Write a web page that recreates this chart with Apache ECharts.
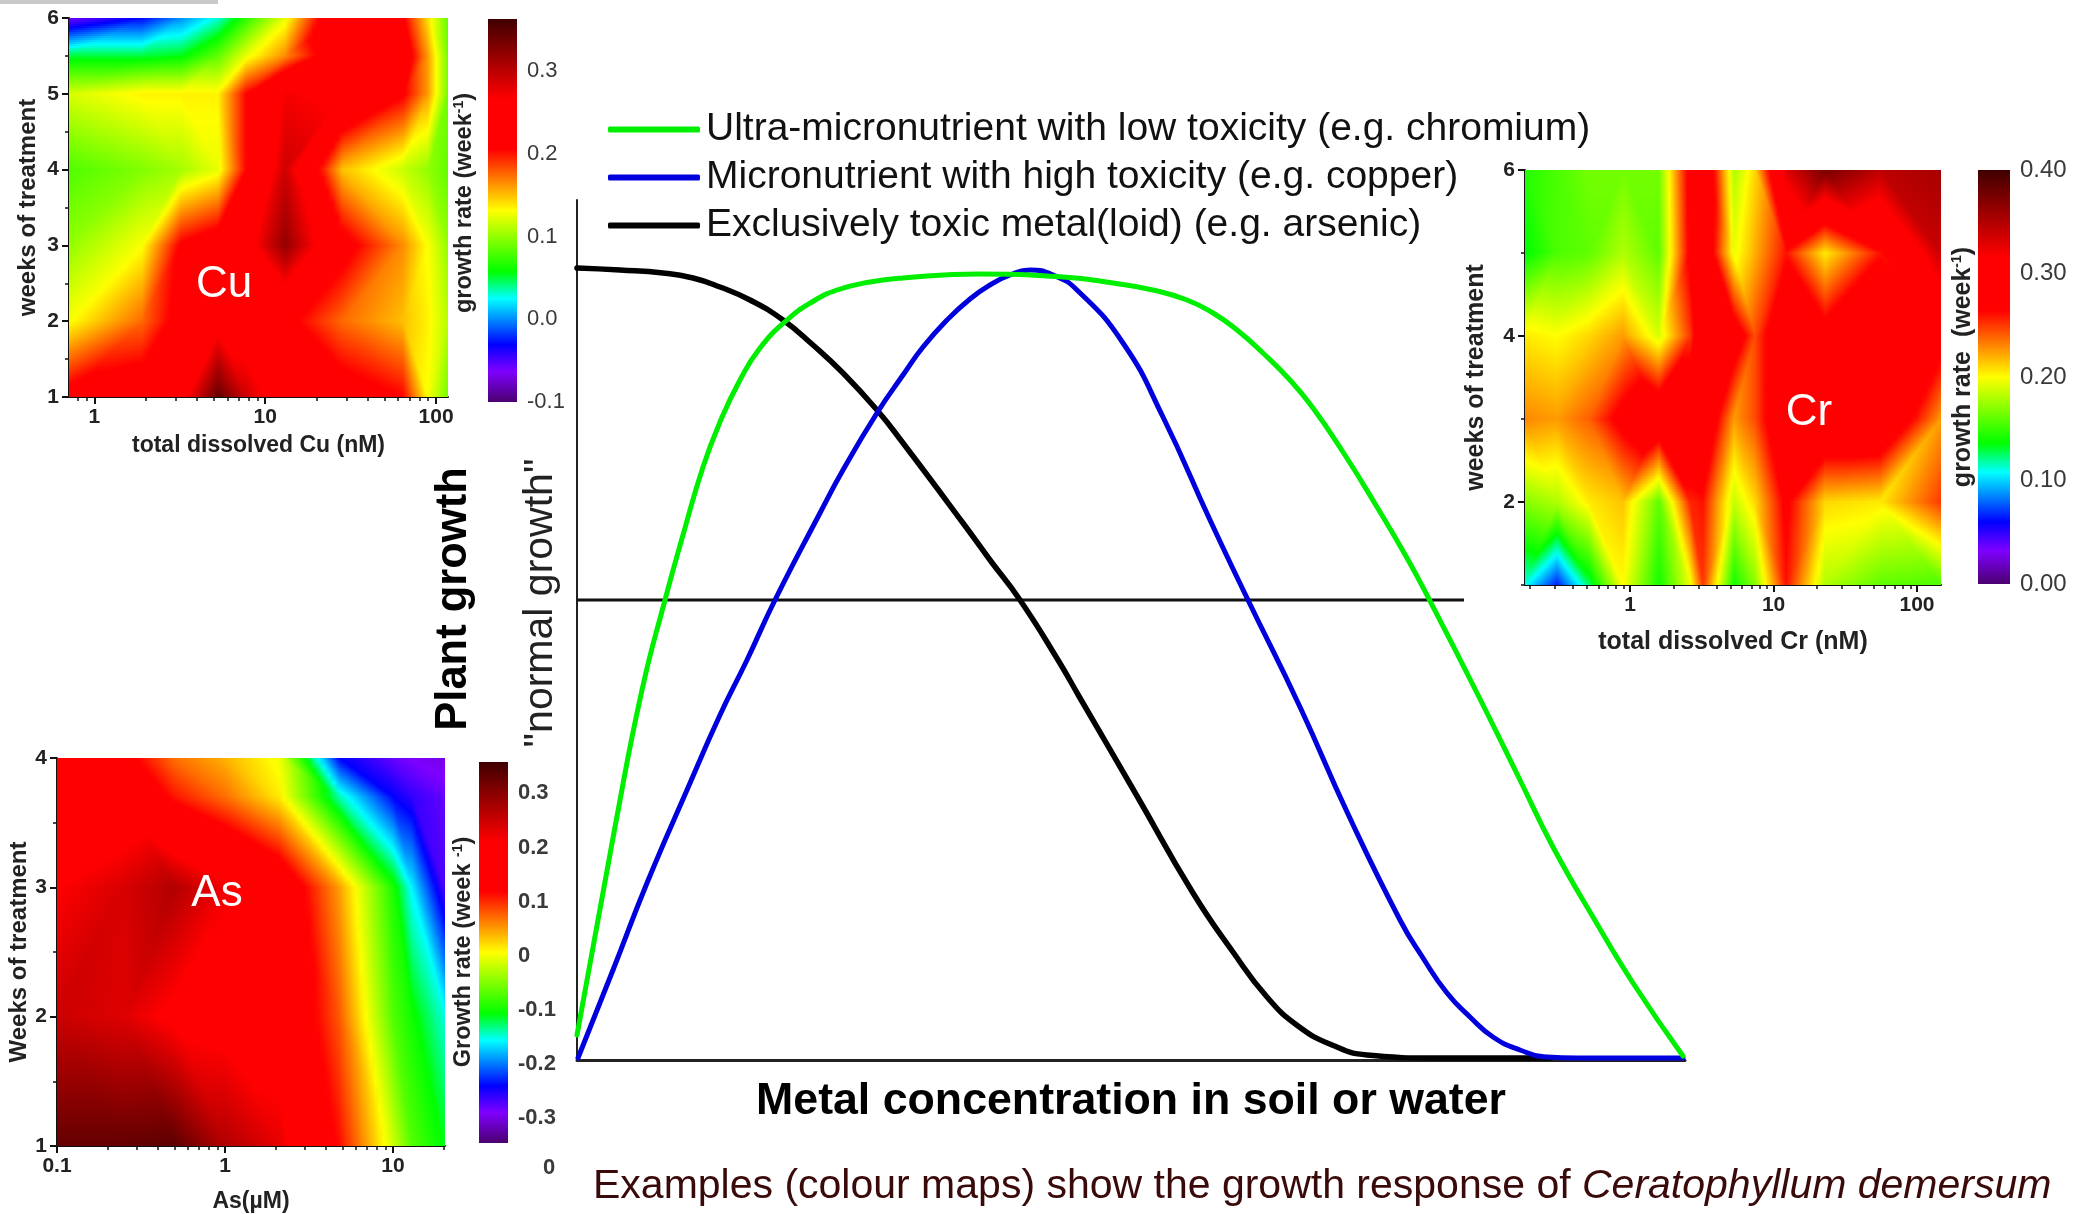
<!DOCTYPE html>
<html><head><meta charset="utf-8">
<style>html,body{margin:0;padding:0;background:#fff}#c{width:2090px;height:1214px}</style>
<script src="https://cdn.jsdelivr.net/npm/echarts@6/dist/echarts.min.js"></script>
</head><body><div id="c"></div>
<script>
// ---------- response curves (relative units) ----------
const lowToxCurve = [[0,25],[38,233],[65,370],[88,460],[106,525],[126,593],[143,638],[163,680],[183,712],[210,740],[235,758],[260,770],[293,778],[326,782],[403,786],[486,783],[536,777],[576,770],[610,760],[636,747],[660,730],[686,707],[713,680],[736,652],[766,608],[800,553],[830,502],[853,459],[900,367],[943,280],[976,213],[1016,143],[1056,77],[1106,4]];
const highToxCurve = [[1,2],[36,90],[70,177],[110,270],[143,345],[170,400],[198,460],[243,547],[266,590],[300,647],[326,685],[346,713],[370,740],[393,761],[413,775],[433,785],[453,790],[476,785],[500,770],[546,717],[586,643],[633,540],[671,460],[723,353],[771,246],[823,140],[846,102],[870,67],[893,43],[916,23],[943,10],[970,3],[1000,2],[1106,2]];
const toxicCurve = [[0,792],[43,790],[86,787],[116,782],[143,773],[173,760],[206,740],[236,715],[266,687],[300,650],[326,617],[386,537],[413,500],[443,460],[481,400],[503,362],[560,264],[616,167],[656,108],[690,63],[721,34],[755,15],[790,5],[860,2],[974,2]];
const normalLine = [[0,460],[887,460]];
const legendNames = ['Ultra-micronutrient with low toxicity (e.g. chromium)','Micronutrient with high toxicity (e.g. copper)','Exclusively toxic metal(loid) (e.g. arsenic)'];

// ---------- Cu map ----------
const cuX = [0.71,1.9,3.2,5.3,7.7,13,28,64,90,117];
const cuY = [1,2,3,4,5,5.5,6];
const cuW1 = [0.22,0.23,0.25,0.345,0.29,0.24,0.225,0.205,0.13,0.09];
const cuW2 = [0.13,0.175,0.22,0.25,0.24,0.215,0.175,0.15,0.135,0.11];
const cuW3 = [0.10,0.13,0.21,0.23,0.25,0.32,0.22,0.165,0.13,0.10];
const cuW4 = [0.08,0.095,0.105,0.125,0.205,0.29,0.15,0.115,0.10,0.085];
const cuW5 = [0.12,0.135,0.135,0.135,0.205,0.27,0.26,0.21,0.16,0.09];
const cuW55 = [0.05,0.05,0.055,0.085,0.125,0.165,0.24,0.235,0.16,0.09];
const cuW6 = [-0.06,-0.03,0.0,0.03,0.07,0.125,0.26,0.21,0.14,0.085];
const cuRange = [-0.1,0.363];
const cuTicks = [-0.1,0,0.1,0.2,0.3];

// ---------- As map ----------
const asX = [0.1,0.25,0.5,1,2.1,4.8,10,13,20.4];
const asY = [1,2,3,3.7,4];
const asW1 = [0.33,0.33,0.335,0.27,0.23,0.115,-0.015,-0.07,-0.11];
const asW2 = [0.25,0.235,0.2,0.19,0.18,0.08,-0.07,-0.1,-0.15];
const asW3 = [0.21,0.24,0.27,0.22,0.17,0.05,-0.095,-0.16,-0.27];
const asW37 = [0.17,0.17,0.11,0.07,0.015,-0.14,-0.24,-0.26,-0.28];
const asW4 = [0.16,0.135,0.07,0.04,0.0,-0.24,-0.28,-0.29,-0.3];
const asRange = [-0.346,0.358];
const asTicks = [-0.3,-0.2,-0.1,0,0.1,0.2,0.3];

// ---------- Cr map ----------
const crX = [0.186,0.31,0.52,0.89,1.6,2.6,3.2,5.3,7.4,12.2,23,55,147];
const crY = [1,2,3,4,5,6];
const crW1 = [0.11,0.065,0.125,0.2,0.14,0.195,0.25,0.14,0.17,0.26,0.18,0.16,0.155];
const crW2 = [0.17,0.18,0.205,0.215,0.16,0.255,0.26,0.185,0.21,0.27,0.21,0.205,0.25];
const crW3 = [0.23,0.225,0.24,0.275,0.3,0.3,0.3,0.225,0.245,0.3,0.31,0.31,0.225];
const crW4 = [0.205,0.2,0.21,0.225,0.19,0.25,0.29,0.285,0.245,0.3,0.28,0.3,0.28];
const crW5 = [0.135,0.155,0.16,0.18,0.16,0.27,0.3,0.195,0.22,0.26,0.205,0.26,0.34];
const crW6 = [0.145,0.155,0.165,0.165,0.165,0.275,0.31,0.18,0.21,0.33,0.375,0.345,0.355];
const crRange = [0,0.40];
const crTicks = [0,0.1,0.2,0.3,0.4];

// ---------- colour ramp shared by the maps ----------
const rampAt = [0,0.08,0.15,0.27,0.34,0.5,0.66,0.79,1];
const rampRgb = [[75,0,112],[127,0,255],[0,0,255],[0,255,255],[0,255,0],[255,255,0],[255,0,0],[255,0,0],[63,0,0]];

function rampColor(n){
  n = Math.max(0,Math.min(1,n));
  let i = 0;
  while(i < rampAt.length-2 && n > rampAt[i+1]) i++;
  const t = (n-rampAt[i])/(rampAt[i+1]-rampAt[i]);
  const a = rampRgb[i], b = rampRgb[i+1];
  return 'rgb('+Math.round(a[0]+(b[0]-a[0])*t)+','+Math.round(a[1]+(b[1]-a[1])*t)+','+Math.round(a[2]+(b[2]-a[2])*t)+')';
}
function cells(xs,ys,rows){
  const out=[];
  for(let j=0;j<ys.length-1;j++)for(let i=0;i<xs.length-1;i++)
    out.push([xs[i],ys[j],xs[i+1],ys[j+1],rows[j][i],rows[j][i+1],rows[j+1][i],rows[j+1][i+1]]);
  return out;
}
// each cell is split along the diagonal joining its two closest values, as a triangulated contour map does
function mapRender(range){
  const col=v=>rampColor((v-range[0])/(range[1]-range[0]));
  return function(params,api){
    const a=api.coord([api.value(0),api.value(1)]), b=api.coord([api.value(2),api.value(3)]);
    const v00=api.value(4),v10=api.value(5),v01=api.value(6),v11=api.value(7);
    const mainDiag=Math.abs(v00-v11)<=Math.abs(v10-v01);
    const x0=Math.round(a[0]),x1=Math.round(b[0]),yT=Math.round(b[1]),yB=Math.round(a[1]);
    const kids=[];
    for(let y=yT;y<yB;y+=2){
      const s=Math.max(0,Math.min(1,(a[1]-(y+1))/(a[1]-b[1])));
      const crease=mainDiag?s:1-s;
      const val=u=>{
        if(mainDiag) return u<s ? v00+s*(v01-v00)+u*(v11-v01) : v00+u*(v10-v00)+s*(v11-v10);
        return u<1-s ? v00+u*(v10-v00)+s*(v01-v00) : v11+(1-u)*(v01-v11)+(1-s)*(v10-v11);
      };
      const us=[];
      for(let k=0;k<=12;k++) us.push(k/12);
      us.push(crease); us.sort((p,q)=>p-q);
      const stops=us.map(u=>({offset:u,color:col(val(u))}));
      kids.push({type:'rect',shape:{x:x0,y:y,width:x1-x0,height:Math.min(2,yB-y)},style:{fill:new echarts.graphic.LinearGradient(0,0,1,0,stops)},silent:true});
    }
    return {type:'group',children:kids};
  };
}
function barRender(params,api){
  const a=api.coord([api.value(0),api.value(1)]), b=api.coord([api.value(2),api.value(3)]);
  const stops=rampAt.map((o,i)=>({offset:o,color:'rgb('+rampRgb[i].join(',')+')'}));
  return {type:'rect',shape:{x:a[0],y:b[1],width:b[0]-a[0],height:a[1]-b[1]},style:{fill:new echarts.graphic.LinearGradient(0,1,0,0,stops)},silent:true};
}

const FF='"Liberation Sans",Arial,sans-serif';
const grids=[],xAxes=[],yAxes=[],series=[];
const axLine={show:true,onZero:false,lineStyle:{color:'#111',width:2}};

function addMap(o){
  const g=grids.length;
  grids.push({left:o.box[0],top:o.box[1],width:o.box[2],height:o.box[3],containLabel:false});
  const xi=xAxes.length,yi=yAxes.length;
  xAxes.push({gridIndex:g,type:'log',logBase:10,position:'bottom',min:o.xMin,max:o.xMax,name:o.xName,nameLocation:'middle',nameGap:o.xGap,
    nameTextStyle:{fontFamily:FF,fontWeight:'bold',fontSize:o.xFont,color:'#222'},
    axisLine:axLine,splitLine:{show:false},minorSplitLine:{show:false},
    axisTick:{show:true,length:7,customValues:o.xMajor,lineStyle:{color:'#111',width:2}},
    axisLabel:{customValues:o.xMajor,fontFamily:FF,fontWeight:'bold',fontSize:21,color:'#222',margin:10,showMinLabel:true,showMaxLabel:true}});
  xAxes.push({gridIndex:g,type:'log',logBase:10,position:'bottom',min:o.xMin,max:o.xMax,axisLine:{show:false},splitLine:{show:false},
    axisTick:{show:true,length:4,customValues:o.xMinor,lineStyle:{color:'#111',width:1.5}},axisLabel:{show:false}});
  yAxes.push({gridIndex:g,type:'value',position:'left',min:o.yMin,max:o.yMax,name:o.yName,nameLocation:'middle',nameGap:o.yGap,nameRotate:90,
    nameTextStyle:{fontFamily:FF,fontWeight:'bold',fontSize:o.yFont,color:'#222'},
    axisLine:axLine,splitLine:{show:false},
    axisTick:{show:true,length:7,customValues:o.yMajor,lineStyle:{color:'#111',width:2}},
    axisLabel:{customValues:o.yMajor,fontFamily:FF,fontWeight:'bold',fontSize:21,color:'#222',margin:10}});
  yAxes.push({gridIndex:g,type:'value',min:o.yMin,max:o.yMax,position:'left',axisLine:{show:false},splitLine:{show:false},
    axisTick:{show:true,length:4,customValues:o.yMinor,lineStyle:{color:'#111',width:1.5}},axisLabel:{show:false}});
  series.push({type:'custom',coordinateSystem:'cartesian2d',xAxisIndex:xi,yAxisIndex:yi,silent:true,animation:false,z:1,
    encode:{x:[0,2],y:[1,3]},data:cells(o.xs,o.ys,o.rows),renderItem:mapRender(o.range)});
  series.push({type:'custom',coordinateSystem:'cartesian2d',xAxisIndex:xi+1,yAxisIndex:yi+1,silent:true,animation:false,
    encode:{x:[0,2],y:[1,3]},data:[],renderItem:barRender});
}
function addBar(o){
  const g=grids.length;
  grids.push({left:o.box[0],top:o.box[1],width:o.box[2],height:o.box[3],containLabel:false});
  const xi=xAxes.length,yi=yAxes.length;
  xAxes.push({gridIndex:g,type:'value',min:0,max:1,show:false});
  yAxes.push({gridIndex:g,type:'value',min:o.range[0],max:o.range[1],position:'right',axisLine:{show:false},axisTick:{show:false},splitLine:{show:false},
    axisLabel:{customValues:o.ticks,formatter:o.fmt,fontFamily:FF,fontWeight:o.weight,fontSize:o.size,color:'#3a3a3a',margin:o.margin}});
  series.push({type:'custom',coordinateSystem:'cartesian2d',xAxisIndex:xi,yAxisIndex:yi,silent:true,animation:false,
    encode:{x:[0,2],y:[1,3]},data:[[0,o.range[0],1,o.range[1]]],renderItem:barRender});
}

addMap({box:[69,18,379,379],xMin:0.71,xMax:117.5,xs:cuX,ys:cuY,rows:[cuW1,cuW2,cuW3,cuW4,cuW5,cuW55,cuW6],range:cuRange,
  xMajor:[1,10,100],xMinor:[0.8,0.9,2,3,4,5,6,7,8,9,20,30,40,50,60,70,80,90],yMin:1,yMax:6,yMajor:[1,2,3,4,5,6],yMinor:[1.5,2.5,3.5,4.5,5.5],
  xName:'total dissolved Cu (nM)',xGap:37,xFont:23,yName:'weeks of treatment',yGap:29,yFont:24});
addMap({box:[57,758,388,388],xMin:0.1,xMax:20.4,xs:asX,ys:asY,rows:[asW1,asW2,asW3,asW37,asW4],range:asRange,
  xMajor:[0.1,1,10],xMinor:[0.2,0.3,0.4,0.5,0.6,0.7,0.8,0.9,2,3,4,5,6,7,8,9,20],yMin:1,yMax:4,yMajor:[1,2,3,4],yMinor:[1.5,2.5,3.5],
  xName:'As(µM)',xGap:44,xFont:23,yName:'Weeks of treatment',yGap:24,yFont:24});
addMap({box:[1525,170,416,415],xMin:0.185,xMax:147,xs:crX,ys:crY,rows:[crW1,crW2,crW3,crW4,crW5,crW6],range:crRange,
  xMajor:[1,10,100],xMinor:[0.2,0.3,0.4,0.5,0.6,0.7,0.8,0.9,2,3,4,5,6,7,8,9,20,30,40,50,60,70,80,90],yMin:1,yMax:6,yMajor:[2,4,6],yMinor:[1,3,5],
  xName:'total dissolved Cr (nM)',xGap:45,xFont:25,yName:'weeks of treatment',yGap:36,yFont:25});

addBar({box:[488,19,29,383],range:cuRange,ticks:cuTicks,fmt:v=>v.toFixed(1),size:22,weight:'normal',margin:10});
addBar({box:[479,762,29,381],range:asRange,ticks:asTicks,fmt:v=>(Math.abs(v)<1e-9?'0':String(+v.toFixed(1))),size:22,weight:'bold',margin:10});
addBar({box:[1978,170,32,414],range:crRange,ticks:crTicks,fmt:v=>v.toFixed(2),size:24,weight:'normal',margin:10});

// main panel
const mg=grids.length;
grids.push({left:577,top:200,width:1108,height:860,containLabel:false});
const mx=xAxes.length,my=yAxes.length;
xAxes.push({gridIndex:mg,type:'value',min:0,max:1108,name:'Metal concentration in soil or water',nameLocation:'middle',nameGap:42,
  nameTextStyle:{fontFamily:FF,fontWeight:'bold',fontSize:44.7,color:'#000',verticalAlign:'middle'},
  axisLine:{show:true,lineStyle:{color:'#222',width:3}},axisTick:{show:false},axisLabel:{show:false},splitLine:{show:false}});
yAxes.push({gridIndex:mg,type:'value',min:0,max:860,axisLine:{show:true,lineStyle:{color:'#222',width:2}},axisTick:{show:false},axisLabel:{show:false},splitLine:{show:false}});
const lineOf=(name,data,color,width)=>({type:'line',name,data,xAxisIndex:mx,yAxisIndex:my,smooth:0.5,showSymbol:false,symbol:'none',animation:false,silent:true,clip:false,
  lineStyle:{color,width,cap:'round',join:'round'},itemStyle:{color},z:5});
series.push({type:'line',data:normalLine,xAxisIndex:mx,yAxisIndex:my,showSymbol:false,symbol:'none',animation:false,silent:true,lineStyle:{color:'#111',width:3},z:4});
series.push(lineOf(legendNames[2],toxicCurve,'#000000',5.5));
series.push(lineOf(legendNames[1],highToxCurve,'#0000dd',5));
series.push(lineOf(legendNames[0],lowToxCurve,'#00ee00',5));

const txt=(text,x,y,font,fill,rot,extra)=>({type:'text',x,y,rotation:rot||0,z:20,silent:true,
  style:Object.assign({text,font,fill,align:'center',verticalAlign:'middle'},extra||{})});
const rateRich=f=>({a:{font:f,fill:'#222'},s:{font:f.replace(/\d+(\.\d+)?px/,'14px'),fill:'#222',verticalAlign:'top',padding:[0,0,12,0]}});
const option={
  animation:false,backgroundColor:'#ffffff',
  grid:grids,xAxis:xAxes,yAxis:yAxes,series,
  legend:{data:legendNames,orient:'vertical',left:603,top:105,itemWidth:92,itemHeight:6,itemGap:9,icon:'roundRect',selectedMode:false,
    textStyle:{fontFamily:FF,fontSize:39,color:'#111',padding:[0,0,0,1]}},
  graphic:{elements:[
    {type:'rect',shape:{x:0,y:0,width:218,height:4},style:{fill:'#c9c9c9'},silent:true},
    txt('Cu',224,285,'44px '+FF,'#fff'),
    txt('As',217,894,'44px '+FF,'#fff'),
    txt('Cr',1809,413,'44px '+FF,'#fff'),
    txt('Plant growth',454,599,'bold 43.5px '+FF,'#000',Math.PI/2),
    txt('"normal growth"',541,603,'41px '+FF,'#222',Math.PI/2),
    txt('{a|growth rate (week}{s|-1}{a|)}',465,203,'20px '+FF,'#222',Math.PI/2,{rich:rateRich('bold 23.5px '+FF)}),
    txt('{a|Growth rate (week }{s|-1}{a|)}',464,952,'20px '+FF,'#222',Math.PI/2,{rich:rateRich('bold 23.5px '+FF)}),
    txt('{a|growth rate  (week}{s|-1}{a|)}',1963,367,'20px '+FF,'#222',Math.PI/2,{rich:rateRich('bold 25px '+FF)}),
    txt('0',549,1168,'bold 22px '+FF,'#3a3a3a'),
    {type:'text',x:593,y:1187,z:20,silent:true,style:{text:'{a|Examples (colour maps) show the growth response of }{b|Ceratophyllum demersum}',
      align:'left',verticalAlign:'middle',rich:{a:{font:'41px '+FF,fill:'#3a0a0a'},b:{font:'italic 41px '+FF,fill:'#3a0a0a'}}}}
  ]}
};
echarts.init(document.getElementById('c'),null,{renderer:'canvas'}).setOption(option);
</script></body></html>
